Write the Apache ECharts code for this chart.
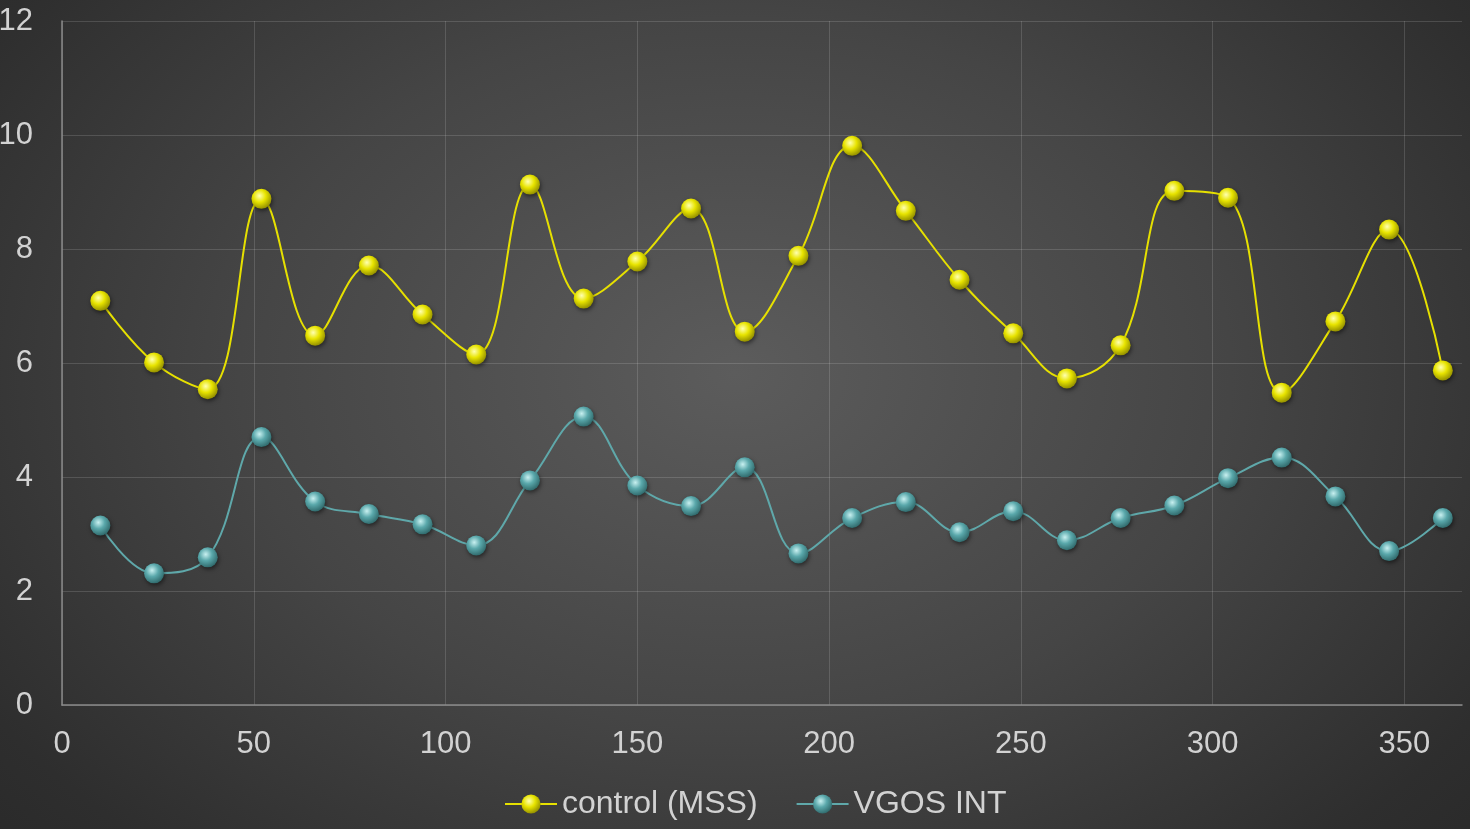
<!DOCTYPE html>
<html><head><meta charset="utf-8">
<script src="https://cdn.jsdelivr.net/npm/echarts@6/dist/echarts.min.js"></script>
<style>
html,body{margin:0;padding:0;}
#c{width:1470px;height:829px;background:radial-gradient(ellipse 75% 95% at 50% 45%, #5c5c5c 0%, #454545 45%, #2e2e2e 80%, #262626 100%);}
</style></head>
<body><div id="c"></div>
<script>
const xValues = [10,24,38,52,66,80,94,108,122,136,150,164,178,192,206,220,234,248,262,276,290,304,318,332,346,360];
const controlMSS = [7.09,6.01,5.54,8.88,6.48,7.71,6.85,6.15,9.13,7.13,7.78,8.71,6.55,7.88,9.81,8.67,7.46,6.52,5.73,6.31,9.02,8.90,5.48,6.73,8.34,5.87];
const vgosINT = [3.15,2.31,2.59,4.70,3.57,3.35,3.17,2.80,3.94,5.06,3.85,3.49,4.17,2.66,3.28,3.56,3.03,3.40,2.89,3.28,3.50,3.98,4.34,3.66,2.70,3.28];
const seriesNames = ['control (MSS)','VGOS INT'];

function sphere(base, light, dark){
  return {type:'radial', x:0.4, y:0.35, r:0.7, colorStops:[
    {offset:0, color:light},{offset:0.45, color:base},{offset:1, color:dark}]};
}
const chart = echarts.init(document.getElementById('c'));
const font = 'Liberation Sans, Arial, sans-serif';
chart.setOption({
  backgroundColor:'transparent',
  animation:false,
  grid:{left:62, right:8, top:21, bottom:124, containLabel:false, outerBoundsMode:'none'},
  xAxis:{type:'value', min:0, max:365, interval:50,
    axisLine:{lineStyle:{color:'#8a8a8a', width:1.5}},
    axisTick:{show:false},
    splitLine:{show:true, showMaxLine:false, lineStyle:{color:'rgba(255,255,255,0.14)', width:1}},
    axisLabel:{color:'#d2d2d2', fontSize:31, fontFamily:font, margin:24, showMaxLabel:false}
  },
  yAxis:{type:'value', min:0, max:12, interval:2,
    axisLine:{show:true, lineStyle:{color:'#8a8a8a', width:1.5}},
    axisTick:{show:false},
    splitLine:{show:true, lineStyle:{color:'rgba(255,255,255,0.14)', width:1}},
    axisLabel:{color:'#d2d2d2', fontSize:31, fontFamily:font, margin:29}
  },
  legend:{bottom:4, left:499, itemGap:38, itemWidth:52, itemHeight:24,
    textStyle:{color:'#d2d2d2', fontSize:32, fontFamily:font, padding:[0,0,0,0]},
    data:seriesNames},
  series:[
    {name:seriesNames[0], type:'line', smooth:0.4, data:xValues.map((x,i)=>[x,controlMSS[i]]),
      symbol:'circle', symbolSize:20,
      lineStyle:{color:'#e6e000', width:2},
      itemStyle:{color:sphere('#e8e400','#ffffb0','#8a8600'), borderWidth:0, shadowColor:'rgba(0,0,0,0.5)', shadowBlur:4, shadowOffsetX:1, shadowOffsetY:2}
    },
    {name:seriesNames[1], type:'line', smooth:0.4, data:xValues.map((x,i)=>[x,vgosINT[i]]),
      symbol:'circle', symbolSize:20,
      lineStyle:{color:'#5fa8aa', width:2},
      itemStyle:{color:sphere('#5aa8ab','#c8f0f0','#2c6466'), borderWidth:0, shadowColor:'rgba(0,0,0,0.5)', shadowBlur:4, shadowOffsetX:1, shadowOffsetY:2}
    }
  ]
});
</script></body></html>
